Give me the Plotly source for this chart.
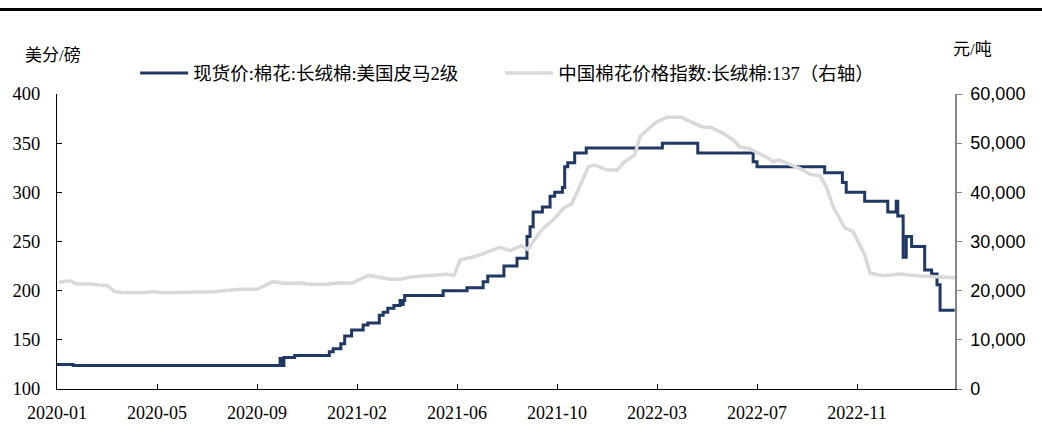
import pandas as pd
import plotly.graph_objects as go

# 现货价:棉花:长绒棉:美国皮马2级 (美分/磅) — step changes
pima_dates = [
    "2020-01-02", "2020-01-23", "2020-10-18", "2020-10-21", "2020-10-23", "2020-11-06",
    "2020-12-21", "2020-12-26", "2021-01-05", "2021-01-10", "2021-01-19", "2021-02-03",
    "2021-02-09", "2021-02-24", "2021-03-01", "2021-03-07", "2021-03-15", "2021-03-23",
    "2021-03-25", "2021-03-27", "2021-03-29", "2021-05-18", "2021-06-18", "2021-07-09",
    "2021-07-15", "2021-08-05", "2021-08-22", "2021-09-04", "2021-09-08", "2021-09-12",
    "2021-09-24", "2021-10-04", "2021-10-10", "2021-10-20", "2021-10-23", "2021-10-27",
    "2021-11-05", "2021-11-20", "2022-02-27", "2022-04-14", "2022-06-25", "2022-06-30",
    "2022-09-26", "2022-10-19", "2022-10-24", "2022-11-17", "2022-12-17", "2022-12-28",
    "2022-12-30", "2023-01-06", "2023-01-10", "2023-01-17", "2023-02-03", "2023-02-12",
    "2023-02-19", "2023-02-23", "2023-03-14",
]
pima_values = [
    125, 124, 131, 124, 132, 134,
    138, 141, 146, 154, 160, 165,
    167, 175, 178, 182, 185, 190,
    186, 190, 195, 200, 203, 209,
    215, 225, 233, 255, 265, 280,
    285, 296, 300, 305, 326, 330,
    340, 345, 350, 340, 331, 326,
    320, 310, 300, 291, 280, 291,
    276, 234, 255, 245, 221, 217,
    206, 180, 180,
]

# 中国棉花价格指数:长绒棉:137 (元/吨, 右轴)
cci_dates = [
    "2020-01-05", "2020-01-19", "2020-01-28", "2020-02-14", "2020-02-25", "2020-03-07",
    "2020-03-17", "2020-04-02", "2020-04-23", "2020-05-06", "2020-05-19", "2020-06-14",
    "2020-07-23", "2020-08-27", "2020-09-18", "2020-10-09", "2020-10-22", "2020-11-13",
    "2020-11-26", "2020-12-18", "2021-01-04", "2021-01-19", "2021-02-10", "2021-03-10",
    "2021-03-23", "2021-04-09", "2021-05-23", "2021-06-01", "2021-06-09", "2021-07-01",
    "2021-07-18", "2021-07-31", "2021-08-13", "2021-08-28", "2021-09-05", "2021-09-23",
    "2021-10-10", "2021-10-23", "2021-11-01", "2021-11-12", "2021-11-23", "2021-12-01",
    "2021-12-17", "2021-12-30", "2022-01-09", "2022-01-22", "2022-01-29", "2022-02-07",
    "2022-02-20", "2022-03-05", "2022-03-24", "2022-04-02", "2022-04-19", "2022-05-02",
    "2022-05-17", "2022-05-30", "2022-06-08", "2022-06-19", "2022-07-02", "2022-07-15",
    "2022-07-21", "2022-07-28", "2022-08-12", "2022-08-27", "2022-09-07", "2022-09-20",
    "2022-09-28", "2022-10-07", "2022-10-22", "2022-11-02", "2022-11-17", "2022-11-24",
    "2022-12-11", "2023-01-02", "2023-01-24", "2023-02-14", "2023-03-14",
]
cci_values = [
    21700, 22030, 21360, 21360, 21150, 21050,
    19800, 19600, 19600, 19800, 19600, 19730,
    19800, 20280, 20280, 21830, 21500, 21560,
    21300, 21300, 21620, 21500, 23100, 22310,
    22310, 22850, 23330, 23050, 26240, 27050,
    28070, 28820, 28140, 29150, 28400, 32340,
    34720, 36960, 37630, 41490, 45220, 45560,
    44540, 44540, 46230, 47600, 51320, 52680,
    54370, 55260, 55260, 54570, 53350, 53150,
    52000, 50650, 49160, 48960, 47940, 46930,
    46230, 46600, 45700, 44690, 43670, 43390,
    41150, 37090, 32810, 32000, 27260, 23530,
    23050, 23390, 23050, 22850, 22640,
]

tick_labels = ["2020-01", "2020-05", "2020-09", "2021-02", "2021-06",
               "2021-10", "2022-03", "2022-07", "2022-11"]

name_pima = "现货价:棉花:长绒棉:美国皮马2级"
name_cci = "中国棉花价格指数:长绒棉:137（右轴）"
left_unit = "美分/磅"
right_unit = "元/吨"

start = pd.Timestamp("2020-01-02")
tick_vals = [start + pd.Timedelta(days=130 * k) for k in range(len(tick_labels))]
x_end = start + pd.Timedelta(days=1167.4)

SERIF = "Liberation Serif, Times New Roman, Noto Sans CJK SC, serif"
SANS = "Liberation Sans, Arial, sans-serif"
CJK = "Liberation Serif, Noto Sans CJK SC, serif"

fig = go.Figure()
fig.add_trace(go.Scatter(
    x=pima_dates, y=pima_values, name=name_pima, mode="lines",
    line=dict(color="#1F3864", width=3, shape="hv"), yaxis="y",
))
fig.add_trace(go.Scatter(
    x=cci_dates, y=cci_values, name=name_cci, mode="lines",
    line=dict(color="#D9D9D9", width=3.5), yaxis="y2",
))

fig.update_layout(
    width=1042, height=447,
    margin=dict(l=57, r=87, t=94, b=58),
    paper_bgcolor="white", plot_bgcolor="white",
    showlegend=True,
    legend=dict(orientation="h", x=0.087, xanchor="left", y=1.07, yanchor="middle",
                font=dict(family=CJK, size=18.5, color="#000"),
                bgcolor="rgba(0,0,0,0)", entrywidth=302, itemwidth=48,
                tracegroupgap=0),
    xaxis=dict(
        type="date", range=[start, x_end],
        tickvals=tick_vals, ticktext=tick_labels,
        showgrid=False, zeroline=False,
        showline=True, linecolor="#000", linewidth=1,
        ticks="inside", ticklen=5, tickcolor="#000",
        tickfont=dict(family=SERIF, size=18, color="#000"),
        ticklabelstandoff=7,
    ),
    yaxis=dict(
        range=[100, 400], dtick=50, tick0=100,
        showgrid=False, zeroline=False,
        showline=True, linecolor="#000", linewidth=1,
        ticks="inside", ticklen=5, tickcolor="#000",
        tickfont=dict(family=SERIF, size=18.5, color="#000"),
        ticklabelstandoff=12,
    ),
    yaxis2=dict(
        overlaying="y", side="right",
        range=[0, 60000], dtick=10000, tick0=0,
        tickformat=",d",
        showgrid=False, zeroline=False,
        showline=True, linecolor="#868686", linewidth=1.5,
        ticks="outside", ticklen=5, tickcolor="#868686",
        tickfont=dict(family=SANS, size=18, color="#000"),
        ticklabelstandoff=5,
    ),
    annotations=[
        dict(text=left_unit, xref="paper", yref="paper", x=(53 - 57) / 898, y=(389 - 55) / 295,
             xanchor="center", yanchor="middle", showarrow=False,
             font=dict(family=CJK, size=17, color="#000")),
        dict(text=right_unit, xref="paper", yref="paper", x=(972 - 57) / 898, y=(389 - 50) / 295,
             xanchor="center", yanchor="middle", showarrow=False,
             font=dict(family=CJK, size=17, color="#000")),
    ],
    shapes=[
        dict(type="line", xref="paper", yref="paper",
             x0=-57 / 898, x1=(1042 - 57) / 898,
             y0=(389 - 9.5) / 295, y1=(389 - 9.5) / 295,
             line=dict(color="#000", width=3)),
    ],
)

fig.write_html("out.html", config={"displayModeBar": False},
               post_script="document.body.style.margin='0';document.body.style.overflow='hidden';")
